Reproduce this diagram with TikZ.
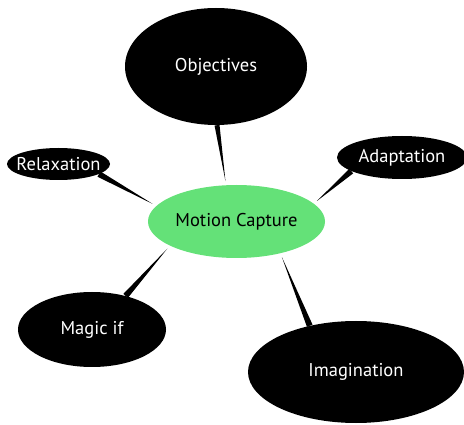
\documentclass[tikz,border=0pt]{standalone}
\usepackage{fontspec}
\setmainfont{PT Sans}
\usepackage{tikz}
\usetikzlibrary{calc, shapes.geometric}
\usepackage{xcolor}
\definecolor{capgreen}{RGB}{100,225,120}

% tapering spoke: wide at the outer bubble, pointed near the centre
\newcommand{\spoke}[3][3pt]{%
	\fill ($(#2)!#1!90:(#3)$) -- ($(#2)!#1!-90:(#3)$) -- ($(#3)!4pt!(#2)$) -- cycle;}

\begin{document}
\begin{tikzpicture}[x=1pt, y=-1pt]
				\tikzstyle{bubble} = [ellipse, fill=black, text=white, inner xsep=-20pt, inner ysep=0pt, font=\fontsize{18.5}{22}\selectfont]
				\tikzstyle{hub} = [bubble, fill=capgreen, text=black]
				
				\useasboundingbox (0,0) rectangle (464,425);
				
				\node[hub, minimum width=177, minimum height=73]		at (236.5,221.5)	(mc)	{Motion Capture};
				\node[bubble, minimum width=182, minimum height=117]	at (216,66.5)		(obj)	{Objectives};
				\node[bubble, minimum width=103, minimum height=32]		at (58.5,164)		(rel)	{Relaxation};
				\node[bubble, minimum width=130, minimum height=43]		at (402,157.5)		(adp)	{Adaptation};
				\node[bubble, minimum width=148, minimum height=75]		at (92,329.5)		(mag)	{Magic if};
				\node[bubble, minimum width=216, minimum height=102]	at (356,372)		(img)	{Imagination};
				
				\spoke[2.5pt]{obj.-89}{mc.106}
				\spoke{rel.-14}{mc.169}
				\spoke{adp.195}{mc.13}
				\spoke{mag.45}{mc.-160}
				\spoke{img.135}{mc.-36}
			\end{tikzpicture}
\end{document}
